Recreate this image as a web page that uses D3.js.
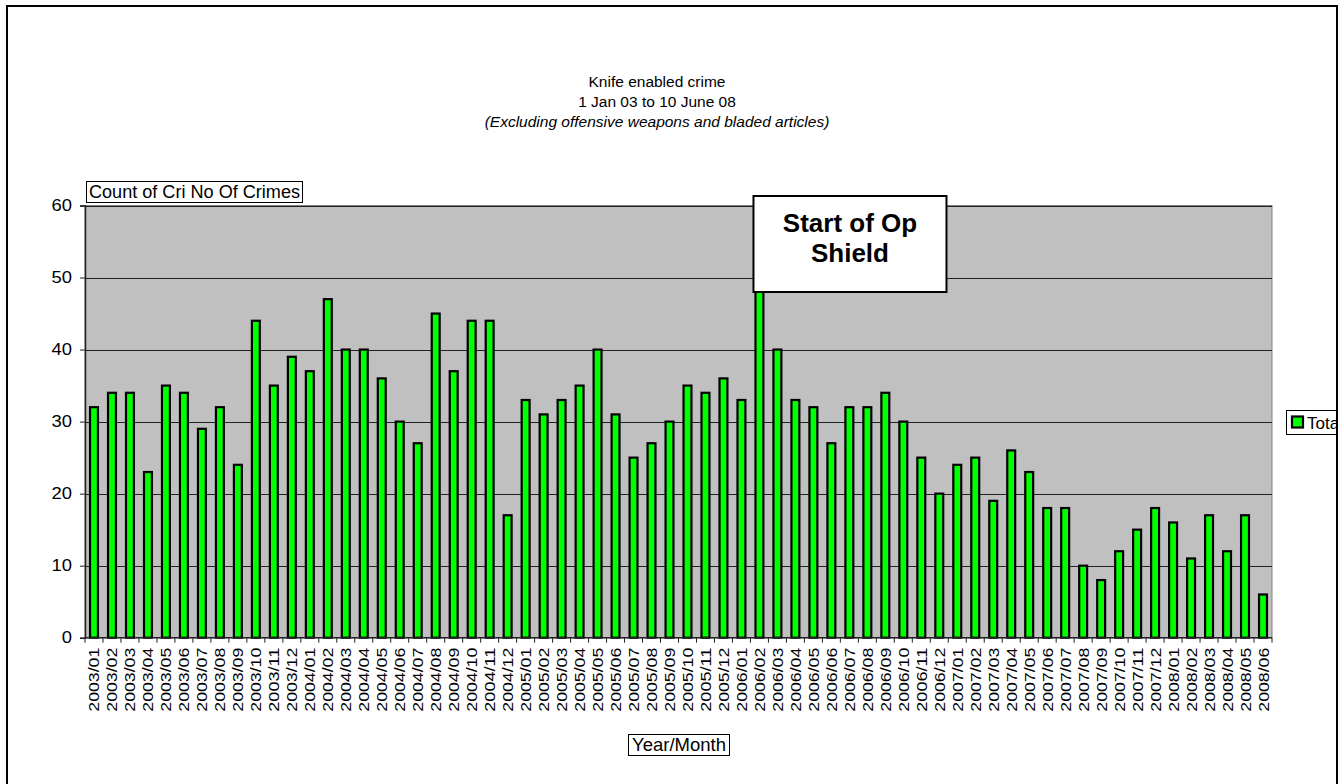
<!DOCTYPE html>
<html>
<head>
<meta charset="utf-8">
<script src="https://cdn.jsdelivr.net/npm/d3@7"></script>
<style>
  body { margin: 0; background: #fff; }
  svg { font-family: "Liberation Sans", Arial, sans-serif; }
</style>
</head>
<body>
<svg width="1343" height="784"></svg>
<script>
// months shown on the x axis
var months = [
  "2003/01","2003/02","2003/03","2003/04","2003/05","2003/06","2003/07","2003/08","2003/09","2003/10","2003/11","2003/12",
  "2004/01","2004/02","2004/03","2004/04","2004/05","2004/06","2004/07","2004/08","2004/09","2004/10","2004/11","2004/12",
  "2005/01","2005/02","2005/03","2005/04","2005/05","2005/06","2005/07","2005/08","2005/09","2005/10","2005/11","2005/12",
  "2006/01","2006/02","2006/03","2006/04","2006/05","2006/06","2006/07","2006/08","2006/09","2006/10","2006/11","2006/12",
  "2007/01","2007/02","2007/03","2007/04","2007/05","2007/06","2007/07","2007/08","2007/09","2007/10","2007/11","2007/12",
  "2008/01","2008/02","2008/03","2008/04","2008/05","2008/06"
];

// Total crimes per month
var totals = [
  32,34,34,23,35,34,29,32,24,44,35,39,
  37,47,40,40,36,30,27,45,37,44,44,17,
  33,31,33,35,40,31,25,27,30,35,34,36,
  33,50,40,33,32,27,32,32,34,30,25,20,
  24,25,19,26,23,18,18,10,8,12,15,18,
  16,11,17,12,17,6
];

var yTicks = [0, 10, 20, 30, 40, 50, 60];

var titleLines = ["Knife enabled crime", "1 Jan 03 to 10 June 08"];
var subTitle = "(Excluding offensive weapons and bladed articles)";
var noteLines = ["Start of Op", "Shield"];
var noteMonth = "2006/02";

var svg = d3.select("svg");

var margin = {left: 85, top: 205.5, right: 1272, bottom: 637.7};

// outer frame clip
svg.append("defs").append("clipPath").attr("id", "frameclip")
  .append("rect").attr("x", 7).attr("y", 6).attr("width", 1330).attr("height", 800);

var root = svg.append("g").attr("clip-path", "url(#frameclip)");

var x = d3.scaleBand()
    .domain(months)
    .range([margin.left, margin.right])
    .paddingInner(0.56)
    .paddingOuter(0.28);

var y = d3.scaleLinear()
    .domain([0, 60])
    .range([margin.bottom, margin.top]);

// plot background
root.append("rect")
    .attr("x", margin.left).attr("y", margin.top)
    .attr("width", margin.right - margin.left)
    .attr("height", margin.bottom - margin.top)
    .attr("fill", "#c0c0c0")
    .attr("stroke", "#808080")
    .attr("stroke-width", 1);

// gridlines
root.append("g")
  .selectAll("line")
  .data(yTicks.filter(function(d) { return d > 0; }))
  .enter().append("line")
    .attr("x1", margin.left).attr("x2", margin.right)
    .attr("y1", function(d) { return Math.round(y(d)) + 0.5; })
    .attr("y2", function(d) { return Math.round(y(d)) + 0.5; })
    .attr("stroke", "#222")
    .attr("stroke-width", 1);

// bars
root.append("g")
  .selectAll("rect")
  .data(totals)
  .enter().append("rect")
    .attr("x", function(d, i) { return x(months[i]); })
    .attr("y", function(d) { return y(d); })
    .attr("width", x.bandwidth())
    .attr("height", function(d) { return y(0) - y(d); })
    .attr("fill", "#00ff00")
    .attr("stroke", "#000")
    .attr("stroke-width", 2.2);

// y axis
var yAxis = root.append("g")
    .attr("transform", "translate(" + margin.left + ",0)")
    .call(d3.axisLeft(y).tickValues(yTicks).tickSize(5).tickPadding(8));
yAxis.select(".domain").attr("stroke", "#222").attr("stroke-width", 1.5);
yAxis.selectAll(".tick line").attr("stroke", "#222");
yAxis.selectAll("text")
    .attr("font-size", 16).attr("fill", "#000")
    .attr("font-family", "Liberation Sans, Arial, sans-serif")
    .attr("x", -13 / 1.15)
    .attr("transform", "scale(1.15,1)");

// x axis: ticks between categories
var xAxisG = root.append("g");
xAxisG.append("line")
    .attr("x1", margin.left).attr("x2", margin.right)
    .attr("y1", margin.bottom).attr("y2", margin.bottom)
    .attr("stroke", "#222").attr("stroke-width", 1.5);
xAxisG.selectAll("line.tk")
  .data(d3.range(months.length + 1))
  .enter().append("line")
    .attr("class", "tk")
    .attr("x1", function(i) { return margin.left + i * x.step(); })
    .attr("x2", function(i) { return margin.left + i * x.step(); })
    .attr("y1", margin.bottom).attr("y2", margin.bottom + 5)
    .attr("stroke", "#222");
xAxisG.selectAll("text")
  .data(months)
  .enter().append("text")
    .attr("transform", function(d) {
      return "translate(" + (x(d) + x.bandwidth() / 2 + 5.5) + "," + (margin.bottom + 10) + ") rotate(-90)";
    })
    .attr("text-anchor", "end")
    .attr("font-size", 15)
    .attr("textLength", 64)
    .attr("lengthAdjust", "spacingAndGlyphs")
    .text(function(d) { return d; });

// titles
var title = root.append("text")
    .attr("text-anchor", "middle")
    .attr("font-size", 15.5);
titleLines.forEach(function(t, i) {
  title.append("tspan").attr("x", 657).attr("y", 87 + i * 20).text(t);
});
title.append("tspan").attr("x", 657).attr("y", 127)
    .attr("font-style", "italic").text(subTitle);

// y axis title box
var yt = root.append("g");
yt.append("rect").attr("x", 86.5).attr("y", 181.5).attr("width", 216).attr("height", 21)
    .attr("fill", "#fff").attr("stroke", "#000");
yt.append("text").attr("x", 89).attr("y", 198).attr("font-size", 18)
    .attr("textLength", 211).attr("lengthAdjust", "spacingAndGlyphs")
    .text("Count of Cri No Of Crimes");

// x axis title box
var xt = root.append("g");
xt.append("rect").attr("x", 628.5).attr("y", 734.5).attr("width", 101).attr("height", 21)
    .attr("fill", "#fff").attr("stroke", "#000");
xt.append("text").attr("x", 679).attr("y", 751).attr("font-size", 18.5)
    .attr("text-anchor", "middle").text("Year/Month");

// annotation box
var nx = x(noteMonth) - 2;
var note = root.append("g");
note.append("rect").attr("x", nx).attr("y", 196).attr("width", 193).attr("height", 96)
    .attr("fill", "#fff").attr("stroke", "#000").attr("stroke-width", 2);
noteLines.forEach(function(t, i) {
  note.append("text").attr("x", nx + 96.5).attr("y", 232 + i * 30)
      .attr("text-anchor", "middle").attr("font-size", 26).attr("font-weight", "bold")
      .text(t);
});

// legend
var lg = root.append("g");
lg.append("rect").attr("x", 1286.5).attr("y", 410.5).attr("width", 70).attr("height", 24)
    .attr("fill", "#fff").attr("stroke", "#000");
lg.append("rect").attr("x", 1292).attr("y", 416.5).attr("width", 11).attr("height", 11)
    .attr("fill", "#00ff00").attr("stroke", "#000").attr("stroke-width", 2.2);
lg.append("text").attr("x", 1307).attr("y", 429).attr("font-size", 17).text("Total");

// frame border
svg.append("rect").attr("x", 7).attr("y", 6).attr("width", 1330).attr("height", 800)
    .attr("fill", "none").attr("stroke", "#000").attr("stroke-width", 2);
</script>
</body>
</html>
